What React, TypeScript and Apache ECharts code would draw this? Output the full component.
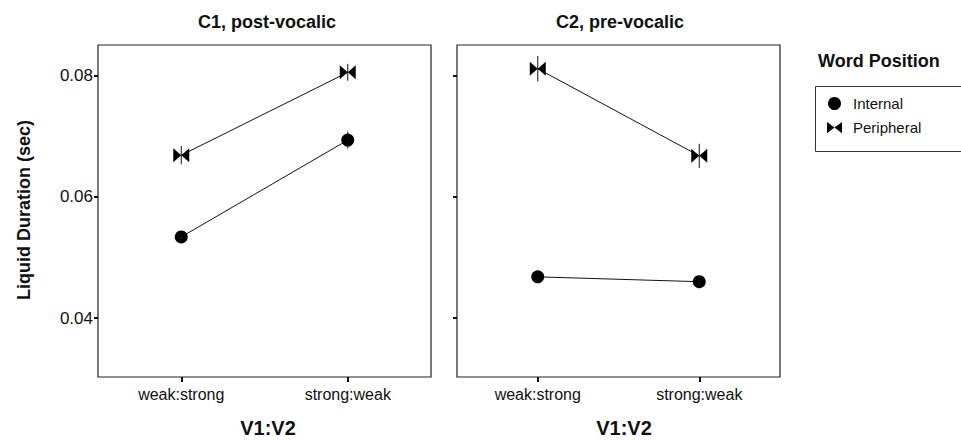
import React, { useEffect, useRef } from "react";
import * as echarts from "echarts";

const categories = ["weak:strong", "strong:weak"];
const yTicks = [0.04, 0.06, 0.08];
const seriesNames = ["Internal", "Peripheral"];

const c1Internal = [0.0534, 0.0694];
const c1Peripheral = [0.0669, 0.0806];
const c2Internal = [0.0468, 0.046];
const c2Peripheral = [0.0812, 0.0668];

const c1InternalErr = [0.0007, 0.0014];
const c1PeripheralErr = [0.0015, 0.0014];
const c2InternalErr = [0.0007, 0.0007];
const c2PeripheralErr = [0.0021, 0.002];

const panelTitles = ["C1, post-vocalic", "C2, pre-vocalic"];
const xTitle = "V1:V2";
const yTitle = "Liquid Duration (sec)";
const legendTitle = "Word Position";

const FONT = "Liberation Sans, Arial, Helvetica, sans-serif";
const BOWTIE = "path://M0,0L8,6L0,12ZM16,0L8,6L16,12Z";

function errData(vals: number[], errs: number[]) {
  return vals.map((v, i) => [i, v - errs[i], v + errs[i]]);
}

export default function App() {
  const ref = useRef<HTMLDivElement>(null);
  useEffect(() => {
    document.body.style.margin = "0";
    const chart = echarts.init(ref.current!, null, { renderer: "svg" });

    const grids = [
      { left: 98, top: 45, width: 333, height: 332 },
      { left: 457, top: 45, width: 323, height: 332 },
    ];

    const xAxes = grids.map((_, i) => ({
      type: "category",
      gridIndex: i,
      data: categories,
      boundaryGap: true,
      axisLine: { show: false },
      axisTick: { show: true, alignWithLabel: true, length: 5, lineStyle: { color: "#111", width: 2 } },
      axisLabel: { show: true, margin: 9, color: "#111", fontSize: 16, fontFamily: FONT },
      splitLine: { show: false },
    }));

    const yAxes = grids.map((_, i) => ({
      type: "value",
      gridIndex: i,
      min: 0.03025,
      max: 0.08512,
      axisLine: { show: false },
      axisTick: { show: true, length: 4, customValues: yTicks, lineStyle: { color: "#111", width: 2 } },
      axisLabel: {
        show: i === 0,
        customValues: yTicks,
        margin: 5,
        color: "#111",
        fontSize: 17,
        fontFamily: FONT,
        formatter: (v: number) => v.toFixed(2),
      },
      splitLine: { show: false },
    }));

    const lineSeries = (name: string, data: number[], idx: number, symbol: string, size: any) => ({
      type: "line",
      name,
      xAxisIndex: idx,
      yAxisIndex: idx,
      data,
      symbol,
      symbolSize: size,
      showSymbol: true,
      lineStyle: { color: "#111", width: 1 },
      itemStyle: { color: "#000" },
      z: 3,
    });

    const errSeries = (data: number[][], idx: number) => ({
      type: "custom",
      xAxisIndex: idx,
      yAxisIndex: idx,
      data,
      encode: { x: 0, y: [1, 2] },
      z: 4,
      renderItem: (params: any, api: any) => {
        const x = api.value(0);
        const lo = api.coord([x, api.value(1)]);
        const hi = api.coord([x, api.value(2)]);
        return {
          type: "line",
          shape: { x1: lo[0], y1: lo[1], x2: hi[0], y2: hi[1] },
          style: { stroke: "#111", lineWidth: 1 },
        };
      },
    });

    const option: any = {
      animation: false,
      backgroundColor: "#fff",
      grid: grids.map((g) => ({ ...g, show: true, borderColor: "#222", borderWidth: 1.2, backgroundColor: "transparent" })),
      xAxis: xAxes,
      yAxis: yAxes,
      legend: {
        orient: "vertical",
        left: 815,
        top: 86,
        itemWidth: 15,
        itemHeight: 13,
        itemGap: 9,
        padding: [10, 20, 11, 12],
        borderWidth: 0,
        textStyle: { fontSize: 15, color: "#111", fontFamily: FONT, padding: [0, 0, 0, 6] },
        data: [
          { name: seriesNames[0], icon: "circle", itemStyle: { color: "#000" } },
          { name: seriesNames[1], icon: BOWTIE, itemStyle: { color: "#000" } },
        ],
      },
      graphic: [
        {
          type: "rect",
          shape: { x: 815.5, y: 86.5, width: 200, height: 65 },
          style: { fill: "none", stroke: "#333", lineWidth: 1 },
          silent: true,
        },
        {
          type: "text",
          x: 267,
          y: 22,
          style: { text: panelTitles[0], font: `bold 18px ${FONT}`, fill: "#111", textAlign: "center", textVerticalAlign: "middle" },
        },
        {
          type: "text",
          x: 620,
          y: 22,
          style: { text: panelTitles[1], font: `bold 18px ${FONT}`, fill: "#111", textAlign: "center", textVerticalAlign: "middle" },
        },
        {
          type: "text",
          x: 268,
          y: 428,
          style: { text: xTitle, font: `bold 20px ${FONT}`, fill: "#111", textAlign: "center", textVerticalAlign: "middle" },
        },
        {
          type: "text",
          x: 624,
          y: 428,
          style: { text: xTitle, font: `bold 20px ${FONT}`, fill: "#111", textAlign: "center", textVerticalAlign: "middle" },
        },
        {
          type: "text",
          x: 24,
          y: 210,
          rotation: Math.PI / 2,
          style: { text: yTitle, font: `bold 18px ${FONT}`, fill: "#111", textAlign: "center", textVerticalAlign: "middle" },
        },
        {
          type: "text",
          x: 818,
          y: 61,
          style: { text: legendTitle, font: `bold 18px ${FONT}`, fill: "#111", textAlign: "left", textVerticalAlign: "middle" },
        },
      ],
      series: [
        errSeries(errData(c1Internal, c1InternalErr), 0),
        errSeries(errData(c1Peripheral, c1PeripheralErr), 0),
        errSeries(errData(c2Internal, c2InternalErr), 1),
        errSeries(errData(c2Peripheral, c2PeripheralErr), 1),
        lineSeries(seriesNames[0], c1Internal, 0, "circle", 13),
        lineSeries(seriesNames[1], c1Peripheral, 0, BOWTIE, [16, 14]),
        lineSeries(seriesNames[0], c2Internal, 1, "circle", 13),
        lineSeries(seriesNames[1], c2Peripheral, 1, BOWTIE, [16, 14]),
      ],
    };
    chart.setOption(option);
    return () => chart.dispose();
  }, []);
  return <div ref={ref} style={{ width: 961, height: 441 }} />;
}
